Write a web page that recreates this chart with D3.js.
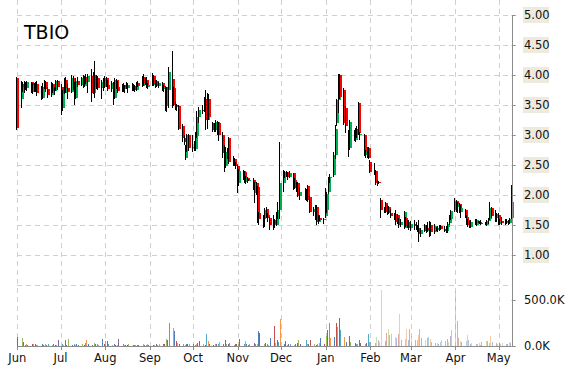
<!DOCTYPE html>
<html>
<head>
<meta charset="utf-8">
<script src="https://cdn.jsdelivr.net/npm/d3@7"></script>
<style>
  html, body { margin: 0; padding: 0; background: #fff; }
  svg { display: block; }
</style>
</head>
<body>
<div id="chart"></div>
<script>
// daily candles per month: [open, high, low, close]
const jun = [
  [3.95,3.97,3.08,3.12],[3.60,3.90,3.45,3.85],[3.85,3.88,3.72,3.80],[3.82,3.90,3.70,3.86],
  [3.86,3.88,3.75,3.78],[3.78,3.90,3.74,3.88],[3.88,3.89,3.70,3.72],[3.72,3.86,3.68,3.84],
  [3.84,3.86,3.72,3.75],[3.75,3.88,3.72,3.85],[3.85,3.90,3.65,3.70],[3.70,3.82,3.58,3.62],
  [3.62,3.86,3.60,3.80],[3.80,3.92,3.76,3.88],[3.88,3.90,3.72,3.76],[3.76,3.80,3.62,3.66],
  [3.66,3.88,3.64,3.85],[3.85,3.87,3.70,3.74],[3.74,3.80,3.66,3.78],[3.78,3.92,3.74,3.90],
  [3.90,3.92,3.75,3.80]
];
const jul = [
  [3.80,3.85,3.33,3.45],[3.45,3.75,3.40,3.70],[3.70,3.95,3.68,3.92],[3.92,3.97,3.70,3.78],
  [3.78,3.85,3.60,3.72],[3.72,4.00,3.70,3.95],[3.95,3.98,3.75,3.80],[3.80,3.88,3.50,3.62],
  [3.62,3.95,3.60,3.90],[3.90,3.96,3.80,3.84],[3.84,3.97,3.82,3.95],[3.95,4.00,3.78,3.82],
  [3.82,3.99,3.80,3.97],[3.97,4.02,3.85,3.88],[3.88,4.02,3.70,3.98],[3.98,4.10,3.55,3.70],
  [3.70,4.05,3.68,4.00],[4.00,4.23,3.62,3.80],[3.80,4.00,3.76,3.95],[3.95,3.98,3.75,3.78],
  [3.78,3.92,3.60,3.88],[3.88,3.95,3.74,3.80]
];
const aug = [
  [3.80,3.98,3.78,3.95],[3.95,3.97,3.80,3.84],[3.84,3.92,3.74,3.76],[3.76,3.90,3.72,3.86],
  [3.86,3.88,3.50,3.62],[3.62,3.95,3.60,3.92],[3.92,3.94,3.76,3.80],[3.80,3.90,3.70,3.74],
  [3.74,3.85,3.72,3.83],[3.83,3.86,3.72,3.76],[3.76,3.84,3.70,3.80],[3.80,3.88,3.76,3.78],
  [3.78,3.86,3.70,3.84],[3.84,3.87,3.74,3.76],[3.76,3.85,3.73,3.82],[3.82,3.84,3.72,3.75],
  [3.75,3.88,3.74,3.86],[3.86,3.90,3.80,3.82],[3.82,3.98,3.80,3.96],[3.96,4.02,3.82,3.86],
  [3.86,3.95,3.84,3.92],[3.92,3.96,3.78,3.80],[3.80,3.86,3.76,3.84]
];
const sep = [
  [3.84,4.03,3.82,3.98],[3.98,4.00,3.82,3.85],[3.85,3.92,3.78,3.90],[3.90,3.92,3.80,3.82],
  [3.82,3.88,3.78,3.86],[3.86,3.88,3.74,3.76],[3.76,3.84,3.72,3.80],[3.80,3.82,3.40,3.48],
  [3.48,3.80,3.38,3.75],[3.75,4.13,3.45,4.05],[3.93,4.40,3.45,3.63],[3.78,3.80,3.48,3.50],
  [3.50,3.55,3.42,3.47],[3.47,3.52,3.40,3.48],[3.48,3.50,3.08,3.10],[3.15,3.18,2.88,2.95],
  [2.95,3.00,2.84,2.88],[2.62,2.83,2.58,2.78],[2.75,3.02,2.72,3.00],[3.00,3.02,2.74,2.78]
];
const oct = [
  [2.78,3.00,2.72,2.80],[2.80,2.90,2.74,2.76],[2.76,3.05,2.74,2.98],[2.98,3.40,2.95,3.30],
  [3.30,3.47,3.20,3.42],[3.42,3.50,3.35,3.40],[3.40,3.63,3.38,3.58],[3.60,3.75,3.08,3.25],
  [3.25,3.70,3.10,3.60],[3.60,3.68,3.25,3.30],[3.20,3.22,3.05,3.08],[3.08,3.20,3.05,3.12],
  [3.12,3.25,3.05,3.22],[3.22,3.24,3.00,3.05],[3.20,3.22,2.90,3.00],[3.00,3.05,2.62,2.70],
  [2.70,2.83,2.38,2.48],[2.48,2.80,2.45,2.72],[2.72,2.78,2.60,2.66],[2.95,2.97,2.52,2.55],
  [2.55,2.65,2.48,2.60],[2.60,2.62,2.48,2.52],[2.52,2.55,2.44,2.48]
];
const nov = [
  [2.48,2.50,2.03,2.20],[2.20,2.43,2.15,2.40],[2.40,2.42,2.25,2.30],[2.38,2.40,2.20,2.22],
  [2.22,2.32,2.18,2.28],[2.28,2.30,2.20,2.25],[2.25,2.26,2.24,2.25],[2.25,2.28,2.08,2.12],
  [2.03,2.22,1.87,2.20],[2.20,2.22,2.00,2.13],[2.13,2.15,1.53,1.70],[1.70,1.72,1.50,1.60],
  [1.60,1.66,1.45,1.62],[1.62,1.78,1.47,1.75],[1.77,1.80,1.62,1.67],[1.67,1.70,1.55,1.62],
  [1.62,1.64,1.42,1.50],[1.50,1.67,1.42,1.58],[1.58,1.60,1.45,1.52],[1.50,1.72,1.48,1.70],
  [1.70,1.88,1.60,1.75],[1.75,2.88,1.60,2.20]
];
const dec = [
  [2.20,2.42,2.05,2.35],[2.35,2.40,2.28,2.38],[2.38,2.40,2.30,2.32],[2.32,2.38,2.25,2.30],
  [2.30,2.40,2.28,2.36],[2.36,2.37,2.08,2.15],[2.25,2.28,2.10,2.12],[2.12,2.22,2.05,2.18],
  [2.20,2.22,1.97,1.98],[1.98,2.12,1.92,2.05],[2.05,2.12,1.92,1.96],[1.96,2.10,1.90,2.06],
  [2.15,2.17,1.88,1.92],[1.97,1.99,1.70,1.72],[1.72,1.80,1.65,1.76],[1.76,1.83,1.58,1.62],
  [1.80,1.83,1.50,1.55],[1.55,1.66,1.52,1.62],[1.62,1.66,1.56,1.58],[1.58,1.62,1.52,1.60]
];
const jan = [
  [1.65,2.12,1.62,2.00],[1.75,2.05,1.70,2.02],[2.05,2.30,2.02,2.28],[2.28,2.35,2.20,2.30],
  [2.33,2.72,2.30,2.67],[2.67,3.17,2.60,3.10],[3.20,3.60,3.15,3.58],[3.58,4.02,3.37,3.95],
  [4.00,4.02,3.60,3.63],[3.75,3.78,3.17,3.20],[3.45,3.48,3.03,3.15],[3.05,3.08,2.63,2.80],
  [2.78,3.25,2.75,3.22],[3.05,3.08,2.90,2.95],[2.92,3.12,2.88,3.08],[3.10,3.15,2.95,3.00],
  [3.53,3.55,3.00,3.03],[3.00,3.05,2.92,3.02],[3.00,3.02,2.65,2.67],[2.67,2.75,2.62,2.72],
  [2.72,2.80,2.62,2.65],[2.78,2.80,2.60,2.62]
];
const feb = [
  [2.55,2.58,2.36,2.38],[2.38,2.53,2.33,2.40],[2.40,2.42,2.17,2.20],[2.20,2.25,2.15,2.22],
  [2.22,2.24,2.18,2.21],[1.92,1.95,1.62,1.75],[1.75,1.80,1.70,1.78],[1.87,1.88,1.70,1.72],
  [1.72,1.83,1.67,1.80],[1.80,1.82,1.68,1.70],[1.70,1.76,1.62,1.65],[1.65,1.70,1.58,1.68],
  [1.68,1.75,1.50,1.55],[1.67,1.68,1.52,1.53],[1.53,1.62,1.45,1.50],[1.50,1.60,1.46,1.55],
  [1.45,1.74,1.44,1.72],[1.62,1.64,1.47,1.48],[1.48,1.58,1.45,1.55],[1.55,1.58,1.42,1.45]
];
const mar = [
  [1.45,1.56,1.40,1.52],[1.52,1.58,1.42,1.48],[1.48,1.55,1.42,1.45],[1.45,1.50,1.38,1.42],
  [1.42,1.58,1.22,1.35],[1.35,1.45,1.30,1.42],[1.50,1.52,1.38,1.40],[1.40,1.50,1.36,1.45],
  [1.45,1.55,1.38,1.42],[1.42,1.56,1.30,1.50],[1.50,1.55,1.32,1.38],[1.38,1.52,1.35,1.48],
  [1.45,1.47,1.40,1.42],[1.42,1.48,1.38,1.45],[1.45,1.50,1.40,1.48],[1.48,1.50,1.42,1.44],
  [1.44,1.48,1.38,1.40],[1.40,1.48,1.36,1.46],[1.46,1.55,1.37,1.52],[1.53,1.67,1.50,1.65],
  [1.60,1.75,1.58,1.73]
];
const apr = [
  [1.75,1.95,1.72,1.90],[1.90,1.92,1.72,1.80],[1.80,1.88,1.70,1.85],[1.85,1.87,1.70,1.72],
  [1.72,1.83,1.62,1.78],[1.75,1.77,1.62,1.63],[1.63,1.66,1.50,1.58],[1.58,1.60,1.47,1.50],
  [1.55,1.56,1.45,1.47],[1.47,1.58,1.45,1.55],[1.55,1.60,1.50,1.52],[1.50,1.60,1.48,1.58],
  [1.55,1.56,1.54,1.55],[1.55,1.57,1.52,1.54],[1.54,1.58,1.50,1.52],[1.52,1.55,1.50,1.54],
  [1.50,1.58,1.48,1.56],[1.56,1.62,1.52,1.60],[1.60,1.88,1.58,1.78],[1.78,1.80,1.62,1.65],
  [1.65,1.75,1.55,1.62],[1.62,1.70,1.55,1.68]
];
const may = [
  [1.67,1.70,1.50,1.52],[1.52,1.60,1.50,1.56],[1.56,1.63,1.50,1.54],[1.54,1.60,1.50,1.57],
  [1.57,1.60,1.52,1.55],[1.55,1.58,1.50,1.53],[1.53,1.62,1.52,1.60],[1.62,2.17,1.60,1.88]
];

// daily volume per month, thousands of shares
const junVol = [100,87,47,15,25,12,20,18,22,10,15,20,12,25,15,18,10,22,15,12,65];
const julVol = [20,15,60,12,75,15,20,10,18,15,25,12,30,65,20,15,35,25,20,15,75,25];
const augVol = [55,50,20,15,25,10,15,75,20,12,15,10,18,15,12,10,15,12,20,15,10,18,12];
const sepVol = [15,12,20,15,18,20,25,75,60,250,200,160,55,30,20,25,15,20,25,18];
const octVol = [20,15,25,30,55,20,15,130,55,25,15,20,18,25,45,20,60,25,20,35,15,20,18];
const novVol = [20,75,25,50,20,15,25,30,20,25,165,140,20,30,25,15,85,220,30,70,40,290];
const decVol = [25,50,15,20,25,15,20,30,60,20,65,20,25,70,20,15,25,30,85,20];
const janVol = [110,175,250,90,100,250,210,305,175,100,40,110,45,30,25,20,60,35,25,30,130,40];
const febVol = [45,30,100,60,40,610,50,140,185,120,130,95,90,130,350,60,80,180,70,190];
const marVol = [110,60,70,120,190,90,60,90,100,80,40,30,35,25,40,60,50,80,45,110,175];
const aprVol = [600,270,90,50,45,50,125,60,25,30,25,20,35,15,40,50,55,30,110,40,30,20];
const mayVol = [30,25,35,20,25,45,30,40];

const priceTicks = [1.0, 1.5, 2.0, 2.5, 3.0, 3.5, 4.0, 4.5, 5.0];
const volumeTicks = [0, 500000];
const volColors = ['#c0504d', '#9bbb59', '#8064a2', '#4bacc6', '#f79646', '#4f81bd'];

const months = [jun, jul, aug, sep, oct, nov, dec, jan, feb, mar, apr, may];
const monthVols = [junVol, julVol, augVol, sepVol, octVol, novVol, decVol, janVol, febVol, marVol, aprVol, mayVol];

const firstDay = new Date(2012, 5, 1);
const lastDay = new Date(2013, 4, 10);
const monthStarts = d3.timeMonth.range(firstDay, new Date(2013, 5, 1));

// spread each month's rows over that month's weekdays
const candles = [];
months.forEach((rows, m) => {
  const start = monthStarts[m];
  const end = m === 11 ? d3.timeDay.offset(lastDay, 1) : d3.timeMonth.offset(start, 1);
  const days = d3.timeDay.range(start, end).filter(d => d.getDay() % 6 !== 0);
  rows.forEach((r, i) => {
    const k = Math.round((i + 0.5) * days.length / rows.length - 0.5);
    candles.push({
      date: days[k], open: r[0], high: r[1], low: r[2], close: r[3],
      volume: monthVols[m][i] * 1000
    });
  });
});

const width = 570, height = 370;
const left = 17.3, right = 511.7;
const volBase = 346;

const x = d3.scaleTime().domain([firstDay, lastDay]).range([left, right]);
const yPrice = d3.scaleLinear().domain([1, 5]).range([255, 15]);
const yVol = d3.scaleLinear().domain([0, 500000]).range([volBase, 300]);

const svg = d3.select("#chart").append("svg")
  .attr("width", width)
  .attr("height", height)
  .attr("font-family", "'DejaVu Sans', Verdana, sans-serif");

const grid = svg.append("g")
  .attr("stroke", "#cfcfcf")
  .attr("stroke-dasharray", "5,4")
  .attr("shape-rendering", "crispEdges");

// month gridlines run through both panels
grid.selectAll(".vgrid")
  .data(monthStarts)
  .enter().append("line")
  .attr("x1", d => Math.round(x(d)) + 0.5)
  .attr("x2", d => Math.round(x(d)) + 0.5)
  .attr("y1", 0)
  .attr("y2", volBase);

// price gridlines, plus the bottom edge of the price panel
grid.selectAll(".hgrid")
  .data(priceTicks.concat([0.5]))
  .enter().append("line")
  .attr("x1", left)
  .attr("x2", right)
  .attr("y1", d => Math.round(yPrice(d)) + 0.5)
  .attr("y2", d => Math.round(yPrice(d)) + 0.5);

// volume bars
const palette = d3.scaleOrdinal().range(volColors);
svg.append("g")
  .attr("shape-rendering", "crispEdges")
  .selectAll("rect")
  .data(candles)
  .enter().append("rect")
  .attr("x", d => Math.round(x(d.date)))
  .attr("y", d => yVol(d.volume))
  .attr("width", 1)
  .attr("height", d => volBase - yVol(d.volume))
  .attr("fill", (d, i) => palette(i % volColors.length))
  .attr("opacity", d => d.date >= new Date(2013, 1, 1) ? 0.5 : 1);

// candles: thin black wick, coloured body beside it
const candle = svg.append("g")
  .attr("shape-rendering", "crispEdges")
  .selectAll("g")
  .data(candles)
  .enter().append("g");

candle.append("rect")
  .attr("x", d => Math.round(x(d.date)) - 1)
  .attr("y", d => yPrice(d.high))
  .attr("width", 1)
  .attr("height", d => Math.max(1, yPrice(d.low) - yPrice(d.high)))
  .attr("fill", "#000");

candle.append("rect")
  .attr("x", d => Math.round(x(d.date)))
  .attr("y", d => yPrice(Math.max(d.open, d.close)))
  .attr("width", 1.5)
  .attr("height", d => Math.max(1, Math.abs(yPrice(d.open) - yPrice(d.close))))
  .attr("fill", d => d.close >= d.open ? "#00b050" : "#ff0000");

// right axis
const axisColor = "#8c8c8c";
svg.append("line")
  .attr("x1", Math.round(right) + 0.5).attr("x2", Math.round(right) + 0.5)
  .attr("y1", yPrice(5)).attr("y2", volBase)
  .attr("stroke", axisColor);

svg.selectAll(".ptick")
  .data(priceTicks)
  .enter().append("line")
  .attr("x1", right).attr("x2", right + 4)
  .attr("y1", d => Math.round(yPrice(d)) + 0.5)
  .attr("y2", d => Math.round(yPrice(d)) + 0.5)
  .attr("stroke", axisColor);

const plabel = svg.selectAll(".plabel")
  .data(priceTicks)
  .enter().append("g")
  .attr("transform", d => "translate(523," + yPrice(d) + ")");

plabel.append("rect")
  .attr("x", 0).attr("y", -8)
  .attr("width", 26).attr("height", 16)
  .attr("fill", "#edeade");

plabel.append("text")
  .attr("x", 1)
  .attr("y", 4)
  .attr("font-size", 11.5)
  .attr("fill", "#111")
  .text(d => d3.format(".2f")(d));

svg.selectAll(".vtick")
  .data(volumeTicks)
  .enter().append("line")
  .attr("x1", right).attr("x2", right + 4)
  .attr("y1", d => Math.round(yVol(d)) + 0.5)
  .attr("y2", d => Math.round(yVol(d)) + 0.5)
  .attr("stroke", axisColor);

svg.selectAll(".vlabel")
  .data(volumeTicks)
  .enter().append("text")
  .attr("x", 524)
  .attr("y", d => yVol(d) + 4)
  .attr("font-size", 11.5)
  .attr("fill", "#111")
  .text(d => d3.format(".1f")(d / 1000) + "K");

// bottom axis
svg.append("line")
  .attr("x1", left).attr("x2", right)
  .attr("y1", volBase + 0.5).attr("y2", volBase + 0.5)
  .attr("stroke", axisColor);

svg.selectAll(".mtick")
  .data(monthStarts)
  .enter().append("line")
  .attr("x1", d => Math.round(x(d)) + 0.5)
  .attr("x2", d => Math.round(x(d)) + 0.5)
  .attr("y1", volBase)
  .attr("y2", volBase + 4)
  .attr("stroke", axisColor);

svg.selectAll(".mlabel")
  .data(monthStarts)
  .enter().append("text")
  .attr("x", d => x(d))
  .attr("y", 362)
  .attr("text-anchor", "middle")
  .attr("font-size", 11.5)
  .attr("fill", "#111")
  .text(d => d3.timeFormat("%b")(d));

// ticker title
svg.append("text")
  .attr("x", 24)
  .attr("y", 39)
  .attr("font-size", 19)
  .attr("fill", "#000")
  .text("TBIO");
</script>
</body>
</html>
